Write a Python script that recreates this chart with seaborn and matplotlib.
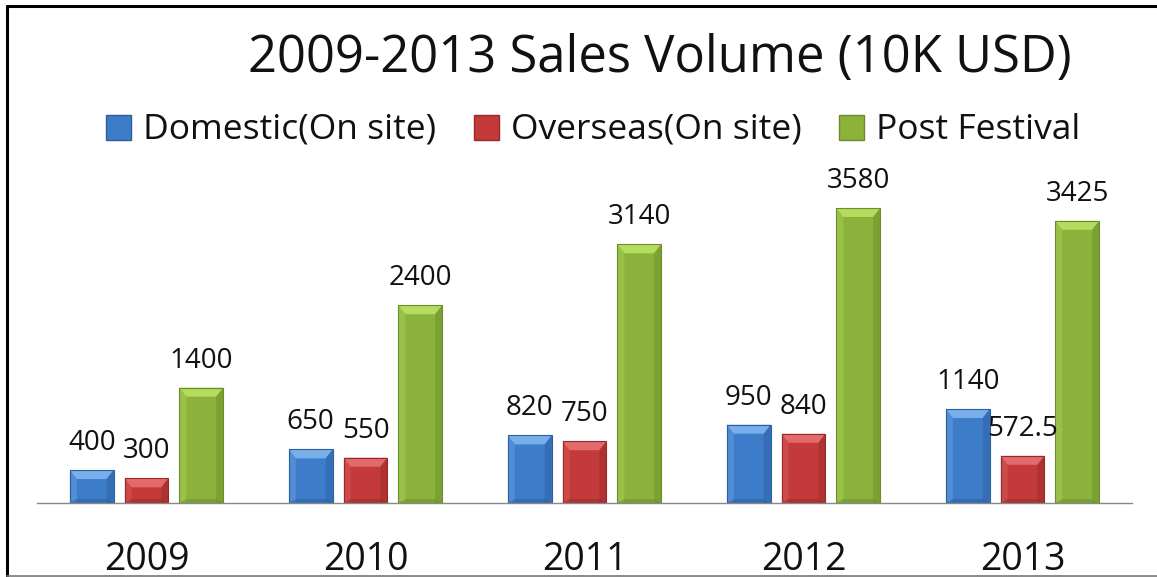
import matplotlib
matplotlib.use("Agg")
import matplotlib.pyplot as plt
import seaborn as sns
import pandas as pd
from matplotlib.patches import Polygon, Rectangle
from matplotlib.lines import Line2D

years = ["2009", "2010", "2011", "2012", "2013"]
series = ["Domestic(On site)", "Overseas(On site)", "Post Festival"]
domestic = [400, 650, 820, 950, 1140]
overseas = [300, 550, 750, 840, 572.5]
post_festival = [1400, 2400, 3140, 3580, 3425]
labels_text = {
    "Domestic(On site)": ["400", "650", "820", "950", "1140"],
    "Overseas(On site)": ["300", "550", "750", "840", "572.5"],
    "Post Festival": ["1400", "2400", "3140", "3580", "3425"],
}

colors = ["#3D7CC9", "#C43A3A", "#8BB33B"]
light = ["#78AEEA", "#E26A6A", "#B5DC5E"]
dark = ["#2C5E9E", "#962A2A", "#6A8C2A"]

rows = []
for s, vals in zip(series, [domestic, overseas, post_festival]):
    for y, v in zip(years, vals):
        rows.append({"Year": y, "Series": s, "Value": v})
df = pd.DataFrame(rows)

sns.set_theme(style="white")
plt.rcParams["font.family"] = ["Open Sans", "DejaVu Sans"]

W, H = 1157, 577
fig = plt.figure(figsize=(W / 100, H / 100), dpi=100)
ax_left, ax_right = 37, 1132
base_y, top_y = 503, 150
ax = fig.add_axes([ax_left / W, (H - base_y) / H, (ax_right - ax_left) / W, (base_y - top_y) / H])

sns.barplot(data=df, x="Year", y="Value", hue="Series", palette=colors,
            width=0.75, gap=0.2, ax=ax, legend=False, saturation=1,
            edgecolor="none", linewidth=0)

ymax = (base_y - top_y) / 0.0824
ax.set_ylim(0, ymax)
ax.set_xlim(-0.5, 4.5)

# bevel decoration derived from each bar patch
px_y = ymax / (base_y - top_y)
px_x = 1.0 / (ax_right - ax_left) * 5
bars = [p for p in ax.patches if isinstance(p, Rectangle)]
for i, p in enumerate(bars):
    si = i // len(years)
    x0, w, h = p.get_x(), p.get_width(), p.get_height()
    bev_y = 9 * px_y
    bev_x = 7 * px_x
    top = Polygon([[x0, h], [x0 + w, h], [x0 + w - bev_x, h - bev_y], [x0 + bev_x, h - bev_y]],
                  closed=True, facecolor=light[si], edgecolor="none", zorder=p.get_zorder() + 0.1)
    ax.add_patch(top)
    lside = Polygon([[x0, h], [x0 + bev_x, h - bev_y], [x0 + bev_x, 0], [x0, 0]],
                    closed=True, facecolor=light[si], alpha=0.35, edgecolor="none", zorder=p.get_zorder() + 0.1)
    ax.add_patch(lside)
    rside = Polygon([[x0 + w, h], [x0 + w - bev_x, h - bev_y], [x0 + w - bev_x, 0], [x0 + w, 0]],
                    closed=True, facecolor=dark[si], alpha=0.45, edgecolor="none", zorder=p.get_zorder() + 0.1)
    ax.add_patch(rside)
    bot = Polygon([[x0, 0], [x0 + w, 0], [x0 + w - bev_x, 4 * px_y], [x0 + bev_x, 4 * px_y]],
                  closed=True, facecolor=dark[si], alpha=0.5, edgecolor="none", zorder=p.get_zorder() + 0.1)
    ax.add_patch(bot)
    ax.add_patch(Rectangle((x0, 0), w, h, facecolor="none", edgecolor=dark[si], linewidth=0.8,
                           zorder=p.get_zorder() + 0.2))
    ax.text(x0 + w / 2, h + 13 * px_y, labels_text[series[si]][i % len(years)],
            ha="center", va="bottom", fontsize=20, color="#111111", zorder=5)

for sp in ["top", "right", "left"]:
    ax.spines[sp].set_visible(False)
ax.spines["bottom"].set_color("#888888")
ax.spines["bottom"].set_linewidth(1.0)
ax.set_yticks([])
ax.set_xlabel("")
ax.set_ylabel("")
ax.tick_params(axis="x", length=0, labelsize=27, pad=27, colors="#111111")

# title and legend
fig.text(660 / W, 1 - 58 / H, "2009-2013 Sales Volume (10K USD)", ha="center", va="center",
         fontsize=36.5, color="#111111")

handles = [Line2D([0], [0], marker="s", linestyle="none", markersize=18,
                  markerfacecolor=c, markeredgecolor=d, markeredgewidth=1.0)
           for c, d in zip(colors, dark)]
fig.legend(handles, series, loc="center", bbox_to_anchor=(592 / W, 1 - 130 / H), ncol=3,
           frameon=False, fontsize=25.5, handlelength=0.8, handletextpad=0.3, columnspacing=1.0,
           labelcolor="#111111")

# outer frame
fig.add_artist(Line2D([7 / W, 7 / W], [0, 1 - 6 / H], transform=fig.transFigure, color="black", linewidth=2.2))
fig.add_artist(Line2D([7 / W, 1], [1 - 6 / H, 1 - 6 / H], transform=fig.transFigure, color="black", linewidth=2.2))
fig.add_artist(Line2D([7 / W, 1], [1.5 / H, 1.5 / H], transform=fig.transFigure, color="#777777", linewidth=1.2))

fig.savefig("out.png", dpi=100, facecolor="white")
